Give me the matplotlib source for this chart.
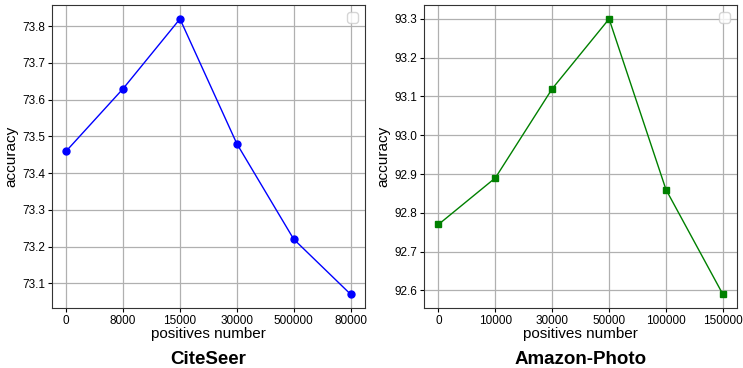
import matplotlib
matplotlib.use("Agg")
import matplotlib.pyplot as plt

plt.rcParams['font.family'] = ['Liberation Sans', 'DejaVu Sans']

cite_labels = ["0", "8000", "15000", "30000", "500000", "80000"]
cite_acc = [73.46, 73.63, 73.82, 73.48, 73.22, 73.07]

photo_labels = ["0", "10000", "30000", "50000", "100000", "150000"]
photo_acc = [92.77, 92.89, 93.12, 93.30, 92.86, 92.59]

fig = plt.figure(figsize=(7.43, 3.68), dpi=100)
ax1 = fig.add_axes([0.070, 0.163, 0.421, 0.823])
ax2 = fig.add_axes([0.571, 0.163, 0.421, 0.823])

def style(ax, labels, vals, color, marker, title):
    x = list(range(len(labels)))
    ax.plot(x, vals, color=color, marker=marker, markersize=5, linewidth=1)
    ax.set_xticks(x)
    ax.set_xticklabels(labels)
    ax.tick_params(labelsize=8.5, length=3, pad=2)
    ax.grid(True, color='#b0b0b0', linewidth=0.9)
    ax.set_axisbelow(True)
    ax.set_xlabel("positives number", fontsize=11, labelpad=0)
    ax.set_ylabel("accuracy", fontsize=11, labelpad=3)
    for s in ax.spines.values():
        s.set_color('#333333')
    ax.legend(handles=[], loc='upper right')
    pos = ax.get_position()
    fig.text((pos.x0 + pos.x1) / 2, 0.022, title, ha='center', va='center',
             fontsize=13.5, fontweight='bold')

style(ax1, cite_labels, cite_acc, 'blue', 'o', 'CiteSeer')
style(ax2, photo_labels, photo_acc, 'green', 's', 'Amazon-Photo')

fig.savefig("out.png", dpi=100)
